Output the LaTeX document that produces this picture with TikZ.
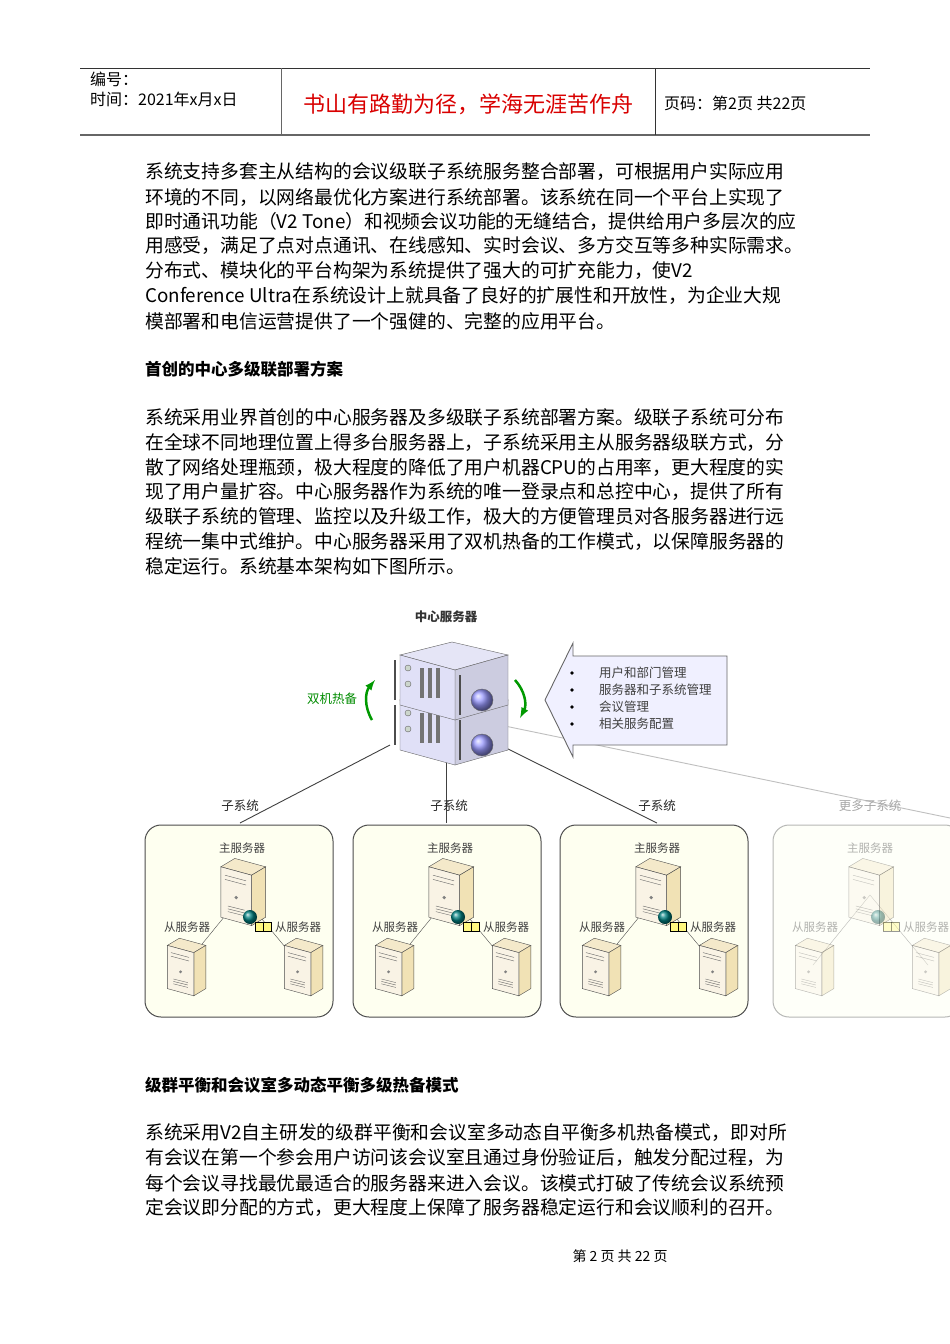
\documentclass[tikz,border=0pt]{standalone}
\usepackage{fontspec}
\setmainfont{Noto Sans CJK SC}
\newfontfamily\cjk{Noto Sans CJK SC}
\begin{document}
\begin{tikzpicture}[x=1pt,y=-1pt,
 body/.style={anchor=west,inner sep=0,font=\fontsize{18.8}{18.8}\selectfont},
 head/.style={anchor=west,inner sep=0,font=\fontsize{16.5}{16.5}\selectfont\bfseries},
 small/.style={inner sep=0,font=\fontsize{11.5}{11.5}\selectfont,text=black!75},
 subbox/.style={draw=black!70,line width=1pt,rounded corners=16pt,fill=green!8!yellow!6!white},
 link/.style={draw=black!75,line width=0.9pt},
 tower/.pic={
   \fill[yellow!30!brown!25!white,draw=black!70] (-13,-18)--(-3,-24)--(19,-18)--(9,-12)--cycle;
   \fill[yellow!35!brown!35!white,draw=black!70] (9,-12)--(19,-18)--(19,18)--(9,24)--cycle;
   \fill[yellow!20!brown!12!white,draw=black!70] (-13,-18)--(9,-12)--(9,24)--(-13,18)--cycle;
   \draw[black!60] (-10,-12)--(5,-8) (-10,-9)--(5,-5);
   \fill[black!50] (-2,4) circle (1.3);
   \foreach \k in {0,2,4} \draw[black!60] (-8,10+\k)--(4,13+\k);
 }]
\useasboundingbox (0,0) rectangle (950,1344);
\fill[white] (0,0) rectangle (950,1344);
% header
\draw[black!80,line width=0.8pt] (80,68)--(870,68);
\draw[black!60,line width=1.2pt] (80,135)--(870,135);
\draw[black!60] (281,68)--(281,135);
\draw[black!80] (655,68)--(655,135);
\node[anchor=west,inner sep=0,font=\fontsize{16}{16}\selectfont] (h1) at (90,79) {编号：};
\node[anchor=west,inner sep=0,font=\fontsize{16}{16}\selectfont] (h2) at (90,99) {时间：2021年x月x日};
\node[inner sep=0,font=\fontsize{22}{22}\selectfont,text=red!85!black] (h3) at (468,104) {书山有路勤为径，学海无涯苦作舟};
\node[anchor=west,inner sep=0,font=\fontsize{16}{16}\selectfont] (h4) at (664,103) {页码：第2页 共22页};
% paragraph 1
\node[body] (p1) at (145,172) {系统支持多套主从结构的会议级联子系统服务整合部署，可根据用户实际应用};
\node[body] (p2) at (145,197) {环境的不同，以网络最优化方案进行系统部署。该系统在同一个平台上实现了};
\node[body] (p3) at (145,221) {即时通讯功能（V2 Tone）和视频会议功能的无缝结合，提供给用户多层次的应};
\node[body] (p4) at (145,246) {用感受，满足了点对点通讯、在线感知、实时会议、多方交互等多种实际需求。};
\node[body] (p5) at (145,271) {分布式、模块化的平台构架为系统提供了强大的可扩充能力，使V2};
\node[body] (p6) at (145,296) {Conference Ultra在系统设计上就具备了良好的扩展性和开放性，为企业大规};
\node[body] (p7) at (145,321) {模部署和电信运营提供了一个强健的、完整的应用平台。};
\node[head] (t1) at (145,369) {首创的中心多级联部署方案};
\node[body] (q1) at (145,417) {系统采用业界首创的中心服务器及多级联子系统部署方案。级联子系统可分布};
\node[body] (q2) at (145,442) {在全球不同地理位置上得多台服务器上，子系统采用主从服务器级联方式，分};
\node[body] (q3) at (145,467) {散了网络处理瓶颈，极大程度的降低了用户机器CPU的占用率，更大程度的实};
\node[body] (q4) at (145,492) {现了用户量扩容。中心服务器作为系统的唯一登录点和总控中心，提供了所有};
\node[body] (q5) at (145,517) {级联子系统的管理、监控以及升级工作，极大的方便管理员对各服务器进行远};
\node[body] (q6) at (145,542) {程统一集中式维护。中心服务器采用了双机热备的工作模式，以保障服务器的};
\node[body] (q7) at (145,566) {稳定运行。系统基本架构如下图所示。};
% diagram: central server
\node[inner sep=0,font=\fontsize{12.5}{12.5}\selectfont\bfseries,text=black!80] (cs) at (446,617) {中心服务器};
\coordinate (c1) at (390,745);
\coordinate (c2) at (446,745);
\coordinate (c3) at (500,745);
\coordinate (c4) at (500,725);
\coordinate (s1) at (240,823);
\coordinate (s2) at (446,823);
\coordinate (s3) at (657,823);
\coordinate (s4) at (950,818);
\draw[link] (c1)--(s1);
\draw[link] (c2)--(s2);
\draw[link] (c3)--(s3);
\draw[black!25,line width=0.9pt] (c4)--(s4);
\foreach \dy in {45,0}{
 \begin{scope}[yshift=-\dy]
 \fill[black!35!blue!10!white,draw=black!60] (400,655)--(452,642)--(508,655)--(455,670)--cycle;
 \fill[black!60!blue!20!white,draw=black!60] (455,670)--(508,655)--(508,705)--(455,720)--cycle;
 \fill[black!25!blue!12!white,draw=black!60] (400,655)--(455,670)--(455,720)--(400,705)--cycle;
 \draw[black!70,line width=1.5pt] (395,660)--(395,700) (460,675)--(460,715);
 \foreach \xx in {420,428,436} \fill[black!55] (\xx,668)rectangle(\xx+4,698);
 \draw[black!60,fill=green!20!black!20] (408,668) circle (3) (408,684) circle (3);
 \shade[ball color=blue!40!white,draw=black!60] (482,700) circle (11);
 \end{scope}}
% hot standby
\node[inner sep=0,font=\fontsize{12.5}{12.5}\selectfont,text=green!55!black] (hb) at (332,699) {双机热备};
\draw[green!60!black,line width=2.5pt,-latex] (372,720) to[bend left=35] (375,680);
\draw[green!60!black,line width=2.5pt,-latex] (515,680) to[bend left=35] (520,718);
% callout arrow
\draw[black!60,fill=blue!6!white,line width=0.9pt] (545,700)--(573,643)--(573,656)--(727,656)--(727,745)--(573,745)--(573,757)--cycle;
\foreach \yy/\tt in {673/用户和部门管理,690/服务器和子系统管理,707/会议管理,724/相关服务配置}{
 \fill (572,\yy) circle (1.8);
 \node[anchor=west,small,font=\fontsize{12.5}{12.5}\selectfont] at (599,\yy) {\tt};}
% subsystem labels
\node[small,font=\fontsize{12.5}{12.5}\selectfont,text=black!85] (l1) at (240,806) {子系统};
\node[small,font=\fontsize{12.5}{12.5}\selectfont,text=black!85] (l2) at (449,806) {子系统};
\node[small,font=\fontsize{12.5}{12.5}\selectfont,text=black!85] (l3) at (657,806) {子系统};
\node[small,font=\fontsize{12.5}{12.5}\selectfont,text=black!35] (l4) at (870,806) {更多子系统};
\foreach \bx/\op in {145/1,353/1,560/1,773/0.4}{
 \begin{scope}[opacity=\op]
 \draw[subbox] (\bx,825) rectangle (\bx+188,1017);
 \draw[black!70] (\bx+97,895)--(\bx+40,965) (\bx+97,895)--(\bx+155,965);
 \pic[scale=1.4] at (\bx+94,892) {tower};
 \pic[scale=1.2] at (\bx+38,967) {tower};
 \pic[scale=1.2] at (\bx+155,967) {tower};
 \shade[ball color=green!50!blue] (\bx+105,917) circle (7);
 \draw[black,fill=yellow!50,line width=1pt] (\bx+110,922) rectangle (\bx+126,931);
 \draw[black] (\bx+118,922)--(\bx+118,931);
 \node[small] at (\bx+97,848) {主服务器};
 \node[small] at (\bx+42,927) {从服务器};
 \node[small] at (\bx+153,927) {从服务器};
 \end{scope}}
\node[head] (t2) at (145,1085) {级群平衡和会议室多动态平衡多级热备模式};
\node[body] (r1) at (145,1133) {系统采用V2自主研发的级群平衡和会议室多动态自平衡多机热备模式，即对所};
\node[body] (r2) at (145,1158) {有会议在第一个参会用户访问该会议室且通过身份验证后，触发分配过程，为};
\node[body] (r3) at (145,1183) {每个会议寻找最优最适合的服务器来进入会议。该模式打破了传统会议系统预};
\node[body] (r4) at (145,1208) {定会议即分配的方式，更大程度上保障了服务器稳定运行和会议顺利的召开。};
\node[inner sep=0,font=\fontsize{14}{14}\selectfont] (ft) at (620,1256) {第 2 页 共 22 页};
\end{tikzpicture}
\end{document}
